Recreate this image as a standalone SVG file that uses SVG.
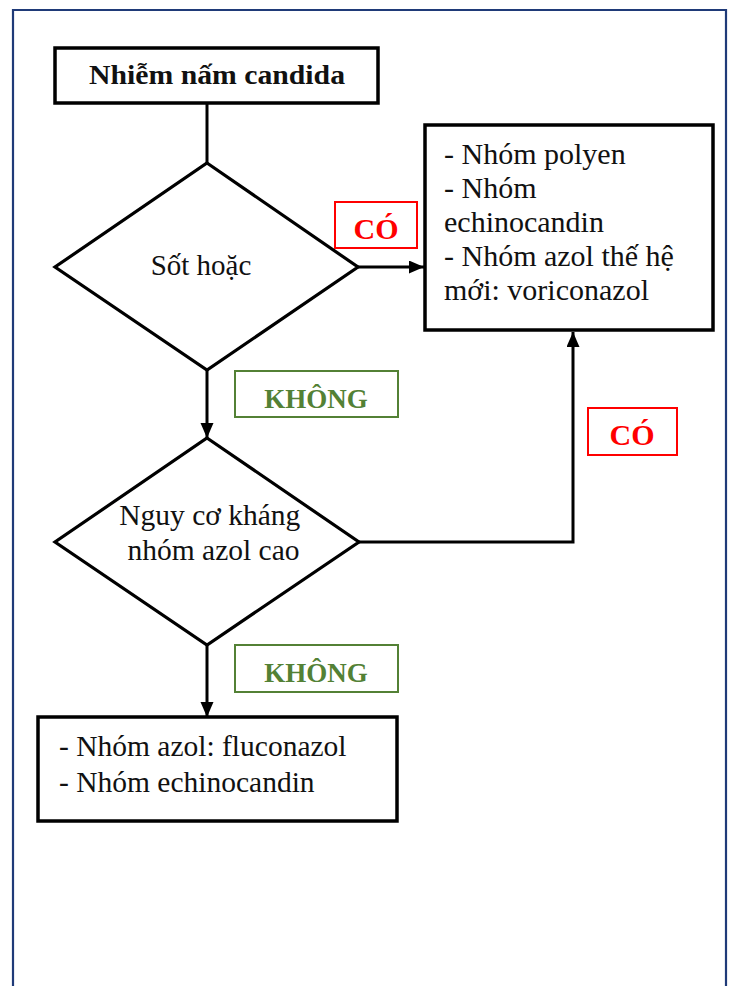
<svg xmlns="http://www.w3.org/2000/svg" width="735" height="986" viewBox="0 0 735 986">
  <style>
    .frame { fill: none; stroke: #1f3a78; stroke-width: 2.2; }
    .box { fill: #ffffff; stroke: #000000; stroke-width: 3.5; }
    .dec { fill: #ffffff; stroke: #000000; stroke-width: 3.2; stroke-linejoin: miter; }
    .conn { fill: none; stroke: #000000; stroke-width: 3; }
    .txt { font-family: "Liberation Serif", "Times New Roman", serif; fill: #111111; }
    .title { font-family: "Liberation Serif", "Times New Roman", serif; font-weight: bold; font-size: 28px; fill: #111111; }
    .yes-box { fill: #ffffff; stroke: #ff0000; stroke-width: 2; }
    .yes { font-family: "Liberation Serif", "Times New Roman", serif; font-weight: bold; font-size: 30px; fill: #ff0000; }
    .no-box { fill: #ffffff; stroke: #538135; stroke-width: 2; }
    .no { font-family: "Liberation Serif", "Times New Roman", serif; font-weight: bold; font-size: 27px; fill: #538135; }
  </style>
  <defs>
    <marker id="arrow" markerUnits="userSpaceOnUse" markerWidth="16" markerHeight="14" refX="15" refY="6.5" orient="auto">
      <path d="M0,0 L15,6.5 L0,13 z" fill="#000000"/>
    </marker>
  </defs>

  <rect width="735" height="986" fill="#ffffff"/>
  <!-- page frame, open at the bottom -->
  <path class="frame" d="M13,990 V10 H726 V990"/>

  <!-- connectors -->
  <g id="connectors">
    <path class="conn" d="M207,103 V163"/>
    <path class="conn" d="M358,267 H424" marker-end="url(#arrow)"/>
    <path class="conn" d="M207,370 V438" marker-end="url(#arrow)"/>
    <path class="conn" d="M358,542 H573 V332" marker-end="url(#arrow)"/>
    <path class="conn" d="M207,645 V717" marker-end="url(#arrow)"/>
  </g>

  <g id="start">
    <rect class="box" x="55" y="48" width="323" height="55"/>
    <text class="title" x="89" y="84" textLength="256" lengthAdjust="spacingAndGlyphs">Nhiễm nấm candida</text>
  </g>

  <g id="fever">
    <polygon class="dec" points="207,163 358,267 207,370 55,267"/>
    <text class="txt" x="201" y="275" font-size="29" text-anchor="middle">Sốt hoặc</text>
  </g>

  <g id="label-yes-1">
    <rect class="yes-box" x="335" y="202" width="82" height="46"/>
    <text class="yes" x="376" y="239" text-anchor="middle">CÓ</text>
  </g>

  <g id="broad-therapy">
    <rect class="box" x="425" y="125" width="288" height="205"/>
    <text class="txt" font-size="30">
      <tspan x="444" y="164">- Nhóm polyen</tspan>
      <tspan x="444" y="198">- Nhóm</tspan>
      <tspan x="444" y="232">echinocandin</tspan>
      <tspan x="444" y="266">- Nhóm azol thế hệ</tspan>
      <tspan x="444" y="300">mới: voriconazol</tspan>
    </text>
  </g>

  <g id="label-no-1">
    <rect class="no-box" x="235" y="371" width="163" height="46"/>
    <text class="no" x="316" y="408" text-anchor="middle">KHÔNG</text>
  </g>

  <g id="azole-risk">
    <polygon class="dec" points="207,438 359,542 207,645 55,542"/>
    <text class="txt" font-size="29.5" text-anchor="middle">
      <tspan x="213.5" y="525">Nguy cơ kháng</tspan>
      <tspan x="213.5" y="560">nhóm azol cao</tspan>
    </text>
  </g>

  <g id="label-yes-2">
    <rect class="yes-box" x="588" y="408" width="89" height="47"/>
    <text class="yes" x="632" y="445" text-anchor="middle">CÓ</text>
  </g>

  <g id="label-no-2">
    <rect class="no-box" x="235" y="645" width="163" height="47"/>
    <text class="no" x="316" y="682" text-anchor="middle">KHÔNG</text>
  </g>

  <g id="standard-therapy">
    <rect class="box" x="38" y="717" width="359" height="104"/>
    <text class="txt" font-size="29.5">
      <tspan x="59" y="756">- Nhóm azol: fluconazol</tspan>
      <tspan x="59" y="792">- Nhóm echinocandin</tspan>
    </text>
  </g>
</svg>
